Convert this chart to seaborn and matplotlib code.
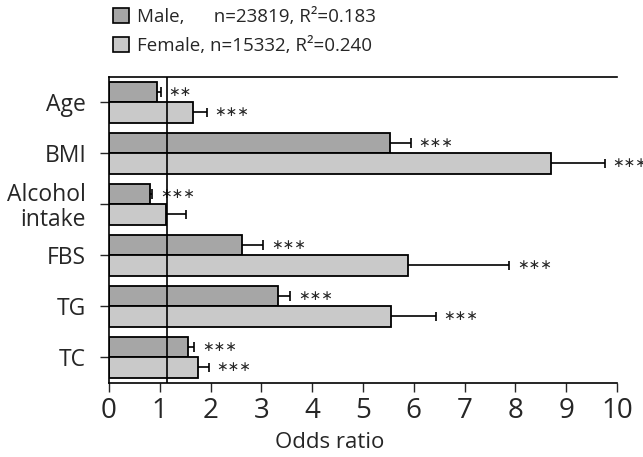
"""Odds ratios by sex - horizontal grouped bar chart."""

import matplotlib
matplotlib.use("Agg")
import matplotlib.pyplot as plt
from matplotlib.patches import Patch
import seaborn as sns
import pandas as pd

# data
variables = ['Age', 'BMI', 'Alcohol\nintake', 'FBS', 'TG', 'TC']
male_or = [0.95, 5.54, 0.80, 2.62, 3.33, 1.55]
male_upper = [1.02, 5.94, 0.85, 3.04, 3.57, 1.68]
male_sig = ['**', '***', '***', '***', '***', '***']
female_or = [1.66, 8.71, 1.13, 5.89, 5.56, 1.75]
female_upper = [1.92, 9.76, 1.51, 7.88, 6.43, 1.96]
female_sig = ['***', '***', '', '***', '***', '***']
groups = ['Male', 'Female']
legend_labels = ['Male,      n=23819, R²=0.183',
                 'Female, n=15332, R²=0.240']
ref_line = 1.135

colors = ['#a6a6a6', '#c9c9c9']

df = pd.DataFrame({
    'variable': variables * 2,
    'odds': male_or + female_or,
    'sex': ['Male'] * len(variables) + ['Female'] * len(variables),
})

sns.set_style('white')
plt.rcParams['font.family'] = ['Open Sans', 'DejaVu Sans']

fig = plt.figure(figsize=(6.43, 4.57), dpi=100)
ax = fig.add_axes([0.1695, 0.1626, 0.790, 0.6696])

sns.barplot(data=df, x='odds', y='variable', hue='sex', hue_order=groups,
            orient='h', palette=colors, edgecolor='black', linewidth=1.3,
            errorbar=None, width=0.8, dodge=True, legend=False, ax=ax)

uppers = [male_upper, female_upper]
sigs = [male_sig, female_sig]
for cont, up, sg in zip(ax.containers, uppers, sigs):
    for bar, u, s in zip(cont, up, sg):
        y = bar.get_y() + bar.get_height() / 2
        x0 = bar.get_width()
        ax.hlines(y, x0, u, color='black', lw=1.2)
        ax.vlines(u, y - 0.09, y + 0.09, color='black', lw=1.2)
        if s:
            ax.text(u + 0.15, y, '\u2217' * len(s), va='center', ha='left',
                    fontsize=10, family='DejaVu Sans', clip_on=False)

ax.axvline(ref_line, color='black', lw=1.2, zorder=3)

ax.set_xlim(0, 10)
ax.set_ylim(5.5, -0.5)
ax.set_xticks(range(0, 11))
ax.set_xticklabels([str(i) for i in range(0, 11)], fontsize=20)
ax.tick_params(axis='x', direction='out', length=6.5, width=1, pad=4, bottom=True)
ax.tick_params(axis='y', direction='out', length=6.5, width=1, pad=10, left=True)
for lbl in ax.get_yticklabels():
    lbl.set_fontsize(16.5)
    lbl.set_linespacing(1.05)
ax.set_ylabel('')
ax.set_xlabel('Odds ratio', fontsize=16, va='center')
ax.xaxis.set_label_coords(0.435, -0.197)

for side in ['left', 'bottom', 'top']:
    ax.spines[side].set_visible(True)
    ax.spines[side].set_color('black')
    ax.spines[side].set_linewidth(1.2)
ax.spines['right'].set_visible(False)

handles = [Patch(facecolor=c, edgecolor='black', linewidth=1.2) for c in colors]
fig.legend(handles, legend_labels, loc='upper left',
           bbox_to_anchor=(113 / 643, 0.982), frameon=False, fontsize=13.5,
           handlelength=0.85, handleheight=0.85, handletextpad=0.45,
           labelspacing=0.55, borderpad=0, borderaxespad=0)

fig.savefig('out.png', dpi=100)
